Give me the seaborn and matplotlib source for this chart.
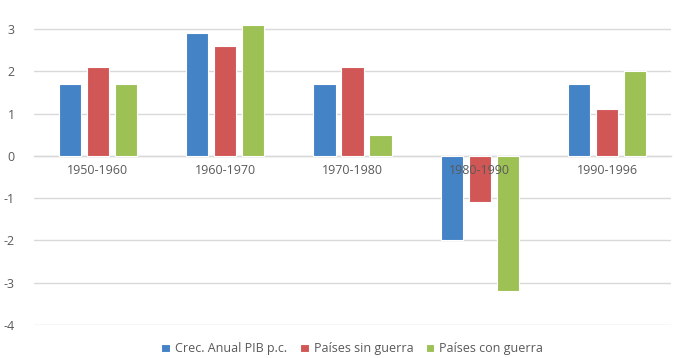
import matplotlib
matplotlib.use("Agg")
import matplotlib.pyplot as plt
import seaborn as sns
import pandas as pd

periods = ["1950-1960", "1960-1970", "1970-1980", "1980-1990", "1990-1996"]
series_names = ["Crec. Anual PIB p.c.", "Países sin guerra", "Países con guerra"]
crec_anual = [1.7, 2.9, 1.7, -2.0, 1.7]
sin_guerra = [2.1, 2.6, 2.1, -1.1, 1.1]
con_guerra = [1.7, 3.1, 0.5, -3.2, 2.0]
y_ticks = [-4, -3, -2, -1, 0, 1, 2, 3]

colors = ["#4383C6", "#D15656", "#9DC155"]
text_color = "#595959"

df = pd.DataFrame({
    "periodo": periods * 3,
    "serie": [series_names[0]] * 5 + [series_names[1]] * 5 + [series_names[2]] * 5,
    "valor": crec_anual + sin_guerra + con_guerra,
})

sns.set_theme(style="white")
plt.rcParams["font.family"] = ["Open Sans", "DejaVu Sans"]

fig = plt.figure(figsize=(6.81, 3.58), dpi=100)
ax = fig.add_axes([0.05, 0.0922, 0.935, 0.8623])

sns.barplot(data=df, x="periodo", y="valor", hue="serie", order=periods,
            hue_order=series_names, palette=colors, saturation=1,
            width=0.66, gap=0.2, edgecolor="white", linewidth=0.8,
            ax=ax, zorder=3, legend=True)

ax.set_xlim(-0.5, 4.5)
ax.set_ylim(-4, 3.3)
ax.set_yticks(y_ticks)
ax.set_yticklabels([str(t) for t in y_ticks])
ax.yaxis.grid(True, color="#D9D9D9", linewidth=1.0)
ax.set_axisbelow(True)
# category labels sit on top of the bars
ax.xaxis.set_zorder(5)

for side in ["top", "right", "left"]:
    ax.spines[side].set_visible(False)
ax.spines["bottom"].set_position(("data", 0))
ax.spines["bottom"].set_color("#D9D9D9")
ax.spines["bottom"].set_linewidth(1.0)
ax.spines["bottom"].set_zorder(1)

ax.tick_params(axis="x", length=0, pad=6, labelsize=9, labelcolor=text_color)
ax.tick_params(axis="y", length=0, pad=14, labelsize=9, labelcolor=text_color)
ax.set_xlabel("")
ax.set_ylabel("")

handles, labels = ax.get_legend_handles_labels()
ax.legend(handles, labels, loc="lower center", bbox_to_anchor=(0.5, -0.135),
          ncol=3, frameon=False, fontsize=9, labelcolor=text_color,
          handlelength=0.7, handleheight=0.7, handletextpad=0.4,
          columnspacing=1.0)

fig.savefig("out.png", dpi=100)
